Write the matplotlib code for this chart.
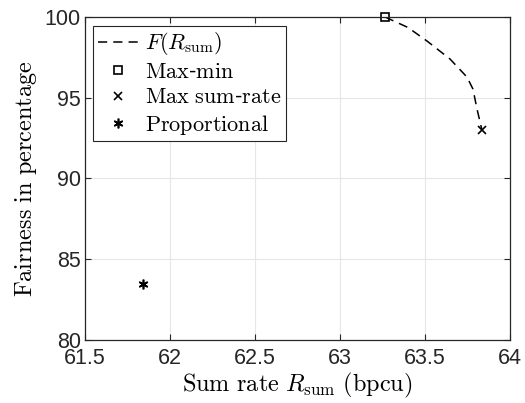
import numpy as np
import matplotlib
matplotlib.use('Agg')
import matplotlib.pyplot as plt
import matplotlib.ticker as ticker

# trade-off curve F(R_sum)
curve_rate = [63.265, 63.40, 63.512, 63.647, 63.747, 63.782, 63.806, 63.835]
curve_fair = [100.0, 99.35, 98.51, 97.40, 96.28, 95.54, 94.30, 93.0]

maxmin_rate, maxmin_fair = [63.265], [100.0]
maxsum_rate, maxsum_fair = [63.835], [93.0]
prop_rate, prop_fair = [61.84], [83.45]

plt.rcParams['mathtext.fontset'] = 'cm'
plt.rcParams['font.family'] = ['Liberation Sans', 'DejaVu Sans']

fig = plt.figure(figsize=(5.25, 4.03), dpi=100)
ax = fig.add_axes([85 / 525, 1 - 340 / 403, 425 / 525, 323 / 403])

ax.plot(curve_rate, curve_fair, color='k', linestyle=(0, (6, 4)), linewidth=1.1,
        label=r'$F(R_\mathrm{sum})$')
ax.plot(maxmin_rate, maxmin_fair, 's', markerfacecolor='none', markeredgecolor='k',
        markersize=6, markeredgewidth=1.2, label=r'$\mathrm{Max}$-$\mathrm{min}$', clip_on=False)
ax.plot(maxsum_rate, maxsum_fair, 'x', color='k', markersize=6, markeredgewidth=1.2,
        label=r'$\mathrm{Max\ sum}$-$\mathrm{rate}$')
ax.plot(prop_rate, prop_fair, marker=(6, 2, 0), linestyle='none', color='k', markersize=7,
        markeredgewidth=1.2, label=r'$\mathrm{Proportional}$')

ax.set_xlim(61.5, 64)
ax.set_ylim(80, 100)
ax.xaxis.set_major_locator(ticker.MultipleLocator(0.5))
ax.yaxis.set_major_locator(ticker.MultipleLocator(5))
ax.xaxis.set_major_formatter(ticker.FuncFormatter(lambda v, p: ('%g' % v)))
ax.grid(True, color='#e6e6e6', linewidth=0.8)
ax.set_axisbelow(True)
ax.tick_params(direction='in', top=True, right=True, labelsize=15.5, length=4,
               color='#262626', labelcolor='#262626')
ax.tick_params(axis='x', pad=6)
ax.tick_params(axis='y', pad=3)
for s in ax.spines.values():
    s.set_color('#262626')
    s.set_linewidth(0.9)

ax.set_xlabel(r'$\mathrm{Sum\ rate\ } R_\mathrm{sum}\ \mathrm{(bpcu)}$', fontsize=17.5, labelpad=1)
ax.set_ylabel(r'$\mathrm{Fairness\ in\ percentage}$', fontsize=17.5, labelpad=4)

leg = ax.legend(loc='upper left', bbox_to_anchor=(0.019, 0.972), fontsize=16, frameon=True,
                fancybox=False, edgecolor='#262626', framealpha=1, handlelength=1.8,
                handletextpad=0.35, borderpad=0.2, labelspacing=0.2, borderaxespad=0)
leg.get_frame().set_linewidth(0.8)

fig.savefig('out.png', dpi=100)
